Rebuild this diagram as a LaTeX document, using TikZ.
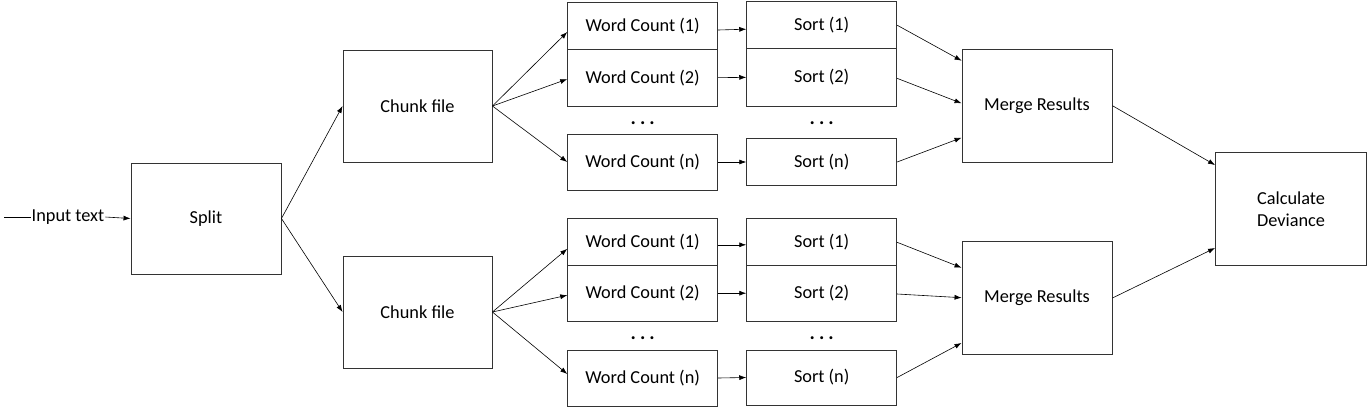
\documentclass[tikz,border=0pt]{standalone}
\usepackage{fontspec}
\setmainfont{Carlito}
\usetikzlibrary{arrows.meta,calc}
\newcommand{\mydots}{\textbf{.\hspace{4pt}.\hspace{4pt}.}}
\begin{document}
\begin{tikzpicture}[x=1pt,y=-1pt,
  box/.style={draw=black!80,line width=0.9pt,fill=white,inner sep=0pt,align=center,font=\fontsize{18.3}{22}\selectfont},
  arr/.style={-{Latex[length=7pt,width=5pt]},line width=0.6pt},
  plain/.style={line width=0.6pt},
  lbl/.style={inner sep=1pt,font=\fontsize{18.3}{22}\selectfont},
  dots/.style={inner sep=0pt,font=\fontsize{20}{22}\selectfont}]
\useasboundingbox (0,0) rectangle (1371,408);
% input
\coordinate (start) at (4,217);
\node[lbl] (in) at (68,217) {Input text};
\node[box,minimum width=150,minimum height=111] (split) at (206,218.5) {Split};
% chunks
\node[box,minimum width=149,minimum height=112] (chT) at (417.5,106) {Chunk file};
\node[box,minimum width=149,minimum height=112] (chB) at (417.5,312) {Chunk file};
% top word counts
\node[box,minimum width=150,minimum height=46.6] (wc1T) at (642.7,26) {Word Count (1)};
\node[box,minimum width=150,minimum height=56.7] (wc2T) at (642.7,77.65) {Word Count (2)};
\node[box,minimum width=150,minimum height=56] (wcnT) at (642.7,162) {Word Count (n)};
\node[dots] (dwT) at (642.7,123) {\mydots};
% top sorts
\node[box,minimum width=150,minimum height=47] (s1T) at (821.7,25.2) {Sort (1)};
\node[box,minimum width=150,minimum height=57.3] (s2T) at (821.7,77.35) {Sort (2)};
\node[box,minimum width=150,minimum height=47.4] (snT) at (821.7,162) {Sort (n)};
\node[dots] (dsT) at (821.7,123) {\mydots};
% bottom word counts
\node[box,minimum width=150,minimum height=47] (wc1B) at (642.7,241.8) {Word Count (1)};
\node[box,minimum width=150,minimum height=55.7] (wc2B) at (642.7,293.2) {Word Count (2)};
\node[box,minimum width=150,minimum height=56] (wcnB) at (642.7,378) {Word Count (n)};
\node[dots] (dwB) at (642.7,338) {\mydots};
% bottom sorts
\node[box,minimum width=150,minimum height=47] (s1B) at (821.7,241.8) {Sort (1)};
\node[box,minimum width=150,minimum height=55.7] (s2B) at (821.7,293.2) {Sort (2)};
\node[box,minimum width=150,minimum height=55] (snB) at (821.7,377.5) {Sort (n)};
\node[dots] (dsB) at (821.7,338) {\mydots};
% merges
\node[box,minimum width=150,minimum height=112.7] (mT) at (1037,105.7) {Merge Results};
\node[box,minimum width=150,minimum height=112.6] (mB) at (1037,298) {Merge Results};
% deviance
\node[box,minimum width=151,minimum height=112.6] (cd) at (1291,209) {Calculate\\Deviance};
% connectors
\draw[plain] (start) -- (in.west);
\draw[arr] (in.east) -- (split.west);
\draw[arr] (split.east) -- (chT.west);
\draw[arr] (split.east) -- (chB.west);
\draw[arr] (chT.east) -- ($(wc1T.west)+(0,6)$);
\draw[arr] (chT.east) -- ($(wc2T.west)+(0,1.5)$);
\draw[arr] (chT.east) -- (wcnT.west);
\draw[arr] (chB.east) -- ($(wc1B.west)+(0,7)$);
\draw[arr] (chB.east) -- ($(wc2B.west)+(0,2)$);
\draw[arr] (chB.east) -- ($(wcnB.west)+(0,-4)$);
\draw[arr] ($(wc1T.east)+(0,4)$) -- ($(s1T.west)+(0,4)$);
\draw[arr] (wc2T.east) -- (s2T.west);
\draw[arr] (wcnT.east) -- (snT.west);
\draw[arr] ($(wc1B.east)+(0,3)$) -- ($(s1B.west)+(0,3)$);
\draw[arr] (wc2B.east) -- (s2B.west);
\draw[arr] (wcnB.east) -- (snB.west);
\draw[arr] (s1T.east) -- ($(mT.west)+(0,-45)$);
\draw[arr] ($(s2T.east)+(0,1)$) -- ($(mT.west)+(0,-2.4)$);
\draw[arr] (snT.east) -- ($(mT.west)+(0,32)$);
\draw[arr] ($(s1B.east)+(0,0.5)$) -- ($(mB.west)+(0,-30.3)$);
\draw[arr] ($(s2B.east)+(0,0.8)$) -- ($(mB.west)+(0,-0.3)$);
\draw[arr] (snB.east) -- ($(mB.west)+(0,45)$);
\draw[arr] (mT.east) -- ($(cd.west)+(0,-44)$);
\draw[arr] (mB.east) -- ($(cd.west)+(0,39)$);
\end{tikzpicture}
\end{document}
